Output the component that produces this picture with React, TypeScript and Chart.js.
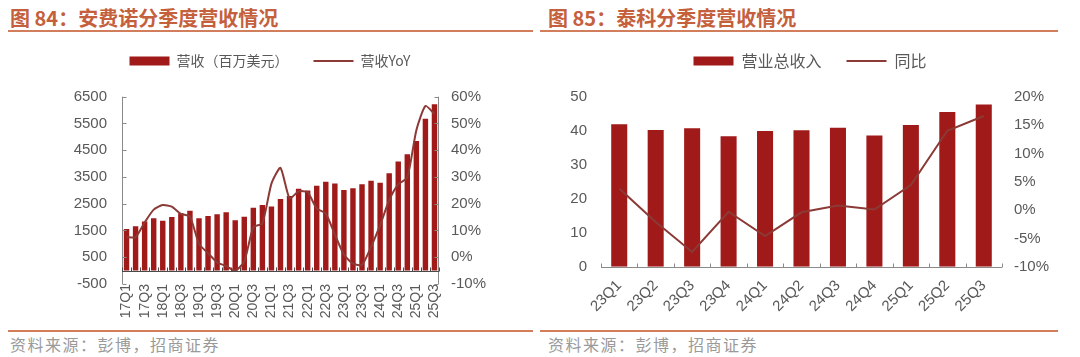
import React, { useEffect, useRef } from 'react';
import { Chart, registerables } from 'chart.js';

Chart.register(...registerables);

// ---------- Data: 安费诺 (Amphenol) ----------
const amphQuarters = [
  '17Q1', '17Q2', '17Q3', '17Q4', '18Q1', '18Q2', '18Q3', '18Q4',
  '19Q1', '19Q2', '19Q3', '19Q4', '20Q1', '20Q2', '20Q3', '20Q4',
  '21Q1', '21Q2', '21Q3', '21Q4', '22Q1', '22Q2', '22Q3', '22Q4',
  '23Q1', '23Q2', '23Q3', '23Q4', '24Q1', '24Q2', '24Q3', '24Q4',
  '25Q1', '25Q2', '25Q3',
];
const amphRevenue = [
  1560, 1660, 1840, 1960, 1860, 2000, 2140, 2240,
  1960, 2040, 2110, 2180, 1880, 2010, 2350, 2450,
  2400, 2680, 2790, 3060, 2990, 3170, 3320, 3260,
  3010, 3080, 3230, 3360, 3280, 3640, 4080, 4350,
  4840, 5680, 6220,
];
const amphYoY = [
  7.5, 7.5, 13, 17.8, 19.5, 18.9, 16.2, 15.2,
  5, 1.5, -1.9, -3.3, -5, -1.6, 11.2, 12.7,
  27.5, 33.4, 22, 24.6, 24.3, 18.2, 16.3, 8.5,
  1, -2.4, -2.8, 3.9, 12, 21.3, 27.2, 29.8,
  47.5, 56.5, 53.6,
];

// ---------- Data: 泰科 (TE Connectivity) ----------
const teQuarters = ['23Q1', '23Q2', '23Q3', '23Q4', '24Q1', '24Q2', '24Q3', '24Q4', '25Q1', '25Q2', '25Q3'];
const teRevenue = [41.9, 40.2, 40.7, 38.4, 39.9, 40.1, 40.9, 38.6, 41.7, 45.5, 47.7];
const teYoY = [3.8, -2.1, -7.4, -0.3, -4.6, -0.4, 0.8, 0.1, 4.4, 14.0, 16.6];

const BAR_COLOR = '#a11a1a';
const LINE_COLOR = '#8b3a36';
const TEXT_COLOR = '#595959';
const AXIS_COLOR = '#8a8a8a';
const TITLE_COLOR = '#c4603c';
const RULE_COLOR = '#d27d5c';
const NUM_FONT = "'Liberation Sans', Arial, sans-serif";
const CJK_FONT = "'Noto Sans CJK SC', 'Noto Sans', sans-serif";

function makeDecor(id: string, withVerticalAxes: boolean) {
  return {
    id,
    afterDatasetsDraw(chart: any) {
      const { ctx, chartArea: a, scales } = chart;
      const x = scales.x;
      const y = scales.y;
      const y1 = scales.y1;
      ctx.save();
      ctx.lineWidth = 1;
      ctx.strokeStyle = AXIS_COLOR;
      if (withVerticalAxes) {
        const lx = Math.round(a.left) + 0.5;
        const rx = Math.round(a.right) - 0.5;
        ctx.beginPath();
        ctx.moveTo(lx, a.top);
        ctx.lineTo(lx, a.bottom);
        ctx.moveTo(rx, a.top);
        ctx.lineTo(rx, a.bottom);
        y.ticks.forEach((t: any) => {
          const py = Math.round(y.getPixelForValue(t.value)) + 0.5;
          ctx.moveTo(lx, py);
          ctx.lineTo(lx + 4, py);
        });
        y1.ticks.forEach((t: any) => {
          const py = Math.round(y1.getPixelForValue(t.value)) + 0.5;
          ctx.moveTo(rx, py);
          ctx.lineTo(rx - 4, py);
        });
        ctx.stroke();
      }
      const zy = Math.round(y.getPixelForValue(0)) + 0.5;
      ctx.strokeStyle = withVerticalAxes ? '#4a4a4a' : AXIS_COLOR;
      ctx.beginPath();
      ctx.moveTo(a.left, zy);
      ctx.lineTo(a.right, zy);
      const n = chart.data.labels.length;
      const w = (a.right - a.left) / n;
      for (let i = 0; i <= n; i++) {
        const px = Math.round(x.getPixelForValue(0) - w / 2 + i * w) + 0.5;
        ctx.moveTo(px, zy);
        ctx.lineTo(px, zy - 4);
      }
      ctx.stroke();
      ctx.restore();
    },
  };
}

function legendOptions(fontSize: number, gap: number) {
  return {
    display: true,
    position: 'top' as const,
    labels: {
      usePointStyle: true,
      pointStyleWidth: 40,
      boxHeight: 9,
      padding: gap,
      color: TEXT_COLOR,
      font: { family: CJK_FONT, size: fontSize },
      sort: (a: any, b: any) => a.datasetIndex - b.datasetIndex,
    },
  };
}

// empty subtitle used only as vertical spacing between legend and plot
function spacer(bottom: number) {
  return {
    display: true,
    text: ' ',
    position: 'top' as const,
    weight: 100,
    font: { size: 10, lineHeight: 1 },
    padding: { top: 0, bottom },
  };
}

export default function App() {
  const leftRef = useRef<HTMLCanvasElement>(null);
  const rightRef = useRef<HTMLCanvasElement>(null);

  useEffect(() => {
    const left = new Chart(leftRef.current as HTMLCanvasElement, {
      type: 'bar',
      data: {
        labels: amphQuarters,
        datasets: [
          {
            type: 'bar',
            label: '营收（百万美元）',
            data: amphRevenue,
            backgroundColor: BAR_COLOR,
            borderWidth: 0,
            barPercentage: 0.6,
            categoryPercentage: 1,
            yAxisID: 'y',
            order: 1,
            pointStyle: 'rect',
          } as any,
          {
            type: 'line',
            label: '营收YoY',
            data: amphYoY,
            borderColor: LINE_COLOR,
            backgroundColor: LINE_COLOR,
            borderWidth: 2,
            pointRadius: 0,
            tension: 0.2,
            yAxisID: 'y1',
            order: 0,
            pointStyle: 'line',
          } as any,
        ],
      },
      options: {
        responsive: false,
        animation: false,
        layout: { padding: { left: 0, right: 0, top: 1, bottom: 0 } },
        plugins: {
          legend: legendOptions(14, 25) as any,
          subtitle: spacer(8.7) as any,
          tooltip: { enabled: false },
        },
        scales: {
          x: {
            grid: { display: false, drawTicks: false },
            border: { display: false },
            ticks: {
              autoSkip: false,
              minRotation: 90,
              maxRotation: 90,
              padding: 0,
              color: TEXT_COLOR,
              font: { family: NUM_FONT, size: 14 },
              callback: (_v: any, i: number) => (i % 2 === 0 ? amphQuarters[i] : ''),
            },
            afterFit: (s: any) => { s.height = 42; },
          },
          y: {
            position: 'left',
            min: -500,
            max: 6500,
            grid: { display: false, drawTicks: false },
            border: { display: false },
            ticks: {
              stepSize: 1000,
              padding: 15,
              color: TEXT_COLOR,
              font: { family: NUM_FONT, size: 15 },
              callback: (v: any) => String(v),
            },
            afterFit: (s: any) => { s.width = 122; },
          },
          y1: {
            position: 'right',
            min: -10,
            max: 60,
            grid: { display: false, drawTicks: false },
            border: { display: false },
            ticks: {
              stepSize: 10,
              padding: 12,
              color: TEXT_COLOR,
              font: { family: NUM_FONT, size: 15 },
              callback: (v: any) => v + '%',
            },
            afterFit: (s: any) => { s.width = 101; },
          },
        },
      },
      plugins: [makeDecor('decorLeft', true)],
    });

    const right = new Chart(rightRef.current as HTMLCanvasElement, {
      type: 'bar',
      data: {
        labels: teQuarters,
        datasets: [
          {
            type: 'bar',
            label: '营业总收入',
            data: teRevenue,
            backgroundColor: BAR_COLOR,
            borderWidth: 0,
            barPercentage: 0.44,
            categoryPercentage: 1,
            yAxisID: 'y',
            order: 1,
            pointStyle: 'rect',
          } as any,
          {
            type: 'line',
            label: '同比',
            data: teYoY,
            borderColor: LINE_COLOR,
            backgroundColor: LINE_COLOR,
            borderWidth: 2,
            pointRadius: 0,
            tension: 0,
            yAxisID: 'y1',
            order: 0,
            pointStyle: 'line',
          } as any,
        ],
      },
      options: {
        responsive: false,
        animation: false,
        layout: { padding: { left: 0, right: 0, top: 0, bottom: 0 } },
        plugins: {
          legend: legendOptions(16, 25) as any,
          subtitle: spacer(7.7) as any,
          tooltip: { enabled: false },
        },
        scales: {
          x: {
            grid: { display: false, drawTicks: false },
            border: { display: false },
            ticks: {
              autoSkip: false,
              minRotation: 45,
              maxRotation: 45,
              padding: 10,
              color: TEXT_COLOR,
              font: { family: NUM_FONT, size: 15 },
            },
            afterFit: (s: any) => { s.height = 59.3; },
          },
          y: {
            position: 'left',
            min: 0,
            max: 50,
            grid: { display: false, drawTicks: false },
            border: { display: false },
            ticks: {
              stepSize: 10,
              padding: 14,
              color: TEXT_COLOR,
              font: { family: NUM_FONT, size: 15 },
              callback: (v: any) => String(v),
            },
            afterFit: (s: any) => { s.width = 61; },
          },
          y1: {
            position: 'right',
            min: -10,
            max: 20,
            grid: { display: false, drawTicks: false },
            border: { display: false },
            ticks: {
              stepSize: 5,
              padding: 12,
              color: TEXT_COLOR,
              font: { family: NUM_FONT, size: 15 },
              callback: (v: any) => v + '%',
            },
            afterFit: (s: any) => { s.width = 78; },
          },
        },
      },
      plugins: [makeDecor('decorRight', false)],
    });

    return () => {
      left.destroy();
      right.destroy();
    };
  }, []);

  const titleStyle: React.CSSProperties = {
    position: 'absolute',
    top: 6,
    fontFamily: CJK_FONT,
    fontWeight: 700,
    fontSize: 20,
    lineHeight: '24px',
    color: TITLE_COLOR,
    whiteSpace: 'nowrap',
  };
  const sourceStyle: React.CSSProperties = {
    position: 'absolute',
    top: 334,
    fontFamily: CJK_FONT,
    fontSize: 16,
    lineHeight: '20px',
    letterSpacing: '1.5px',
    color: '#9a9a9a',
    whiteSpace: 'nowrap',
  };
  const rule = (left: number, top: number, width: number): React.CSSProperties => ({
    position: 'absolute',
    left,
    top,
    width,
    height: 2,
    background: RULE_COLOR,
  });

  return (
    <div style={{ position: 'absolute', left: 0, top: 0, width: 1080, height: 357, background: '#ffffff', overflow: 'hidden' }}>
      <div style={{ ...titleStyle, left: 10 }}>图 84：安费诺分季度营收情况</div>
      <div style={rule(8, 30, 525)} />
      <div style={{ ...titleStyle, left: 548 }}>图 85：泰科分季度营收情况</div>
      <div style={rule(540, 30, 518)} />

      <canvas ref={leftRef} width={540} height={298} style={{ position: 'absolute', left: 0, top: 28, width: 540, height: 298 }} />
      <canvas ref={rightRef} width={540} height={298} style={{ position: 'absolute', left: 540, top: 28, width: 540, height: 298 }} />

      <div style={rule(8, 330, 525)} />
      <div style={{ ...sourceStyle, left: 10 }}>资料来源：彭博，招商证券</div>
      <div style={rule(540, 330, 518)} />
      <div style={{ ...sourceStyle, left: 548 }}>资料来源：彭博，招商证券</div>
    </div>
  );
}
